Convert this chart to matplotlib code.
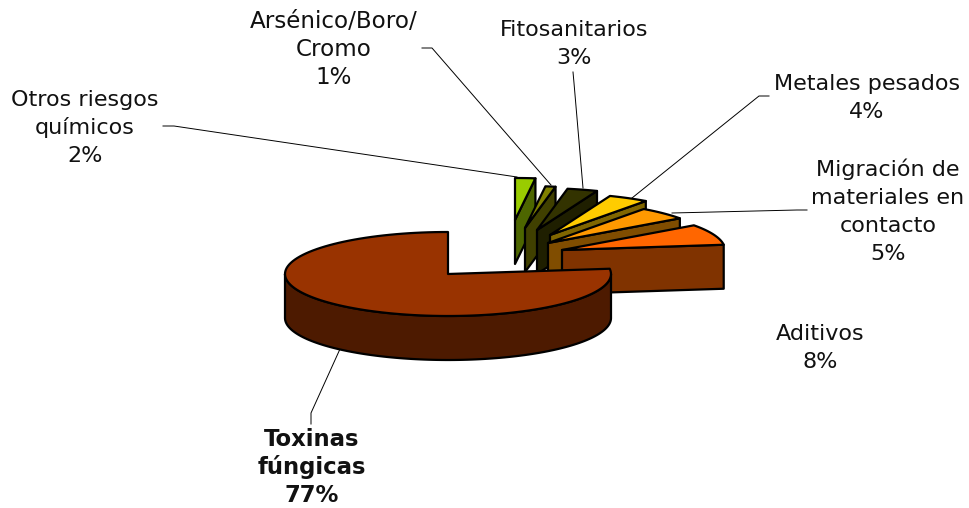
#!/usr/bin/env python3
# exploded 3D-looking pie, drawn by hand since matplotlib's pie is flat
import matplotlib
matplotlib.use("Agg")
import matplotlib.pyplot as plt
import numpy as np
from matplotlib.patches import Polygon

#data, clockwise from 12 o'clock
labels = ["Otros riesgos\nquímicos", "Arsénico/Boro/\nCromo", "Fitosanitarios",
          "Metales pesados", "Migración de\nmateriales en\ncontacto", "Aditivos",
          "Toxinas\nfúngicas"]
values = [2, 1, 3, 4, 5, 8, 77]

#styles
top_colors = ["#99CC00", "#808000", "#333300", "#FFCC00", "#FF9900", "#FF6600", "#993300"]
side_colors = ["#4D6600", "#404000", "#1F1F00", "#806600", "#804D00", "#803300", "#4D1A00"]
explode_x = [67, 77, 89, 102, 100, 114, 0]
explode_y = [-54, -46, -44, -39, -31, -24, 0]
#center x and baseline of the first line of each label
label_pos = [(85, 106), (334, 28), (574, 36), (867, 90), (888, 176), (820, 340), (312, 446)]
label_size = [16, 16.6, 16, 16, 16, 16, 16.4]
LINE_STEP = 28
leaders = [[(163, 126), (174, 126), (517, 177)],
           [(422, 48), (432, 48), (551, 185)],
           [(573, 72), (574, 83), (583, 188)],
           [(769, 96), (759, 96), (632, 198)],
           [(807, 210), (797, 210), (672, 213)],
           None,
           [(311, 424), (311, 413), (340, 349)]]

CX, CY = 448, 274
RX, RY = 163, 42
DEPTH = 44
LW = 1.6

def rim(cx, cy, a0, a1):
    #points along the elliptical edge between two angles (degrees)
    t = np.radians(np.linspace(a0, a1, 120))
    return np.column_stack([cx + RX * np.cos(t), cy - RY * np.sin(t)])

fig = plt.figure(figsize=(9.7, 5.08), dpi=100)
ax = fig.add_axes([0, 0, 1, 1])
ax.set_xlim(0, 970)
ax.set_ylim(508, 0)
ax.axis("off")

fractions = np.array(values) / sum(values)
ends = 90 - np.cumsum(fractions) * 360
starts = np.concatenate([[90], ends[:-1]])

for i in range(len(values)):
    cx = CX + explode_x[i]
    cy = CY + explode_y[i]
    a0, a1 = ends[i], starts[i]
    arc = rim(cx, cy, a0, a1)
    z = 2 + i
    if i < len(values) - 1:
        #cut face on the clockwise edge, the one that looks at the viewer
        p = arc[0]
        side = [(cx, cy), tuple(p), (p[0], p[1] + DEPTH), (cx, cy + DEPTH)]
        ax.add_patch(Polygon(side, fc=side_colors[i], ec="black", lw=LW, zorder=z, joinstyle="round"))
    else:
        #big slice: outer wall along the front half only
        front = rim(cx, cy, -180, 0)
        wall = np.vstack([front, (front + [0, DEPTH])[::-1]])
        ax.add_patch(Polygon(wall, fc=side_colors[i], ec="black", lw=LW, zorder=z, joinstyle="round"))
    ax.add_patch(Polygon(np.vstack([[cx, cy], arc]), fc=top_colors[i], ec="black", lw=LW,
                         zorder=z, joinstyle="round"))

for i in range(len(values)):
    if leaders[i] is not None:
        xs, ys = zip(*leaders[i])
        ax.plot(xs, ys, c="black", lw=0.7, zorder=1)
    bold = labels[i].startswith("Toxinas")
    #one text per line, mpl's own line height changes with accents
    lines = labels[i].split("\n") + ["%d%%" % values[i]]
    for j, line in enumerate(lines):
        ax.text(label_pos[i][0], label_pos[i][1] + j * LINE_STEP, line, ha="center", va="baseline",
                fontsize=label_size[i], family="DejaVu Sans", fontweight="bold" if bold else "normal",
                color="#111111")

fig.savefig("out.png", dpi=100)
